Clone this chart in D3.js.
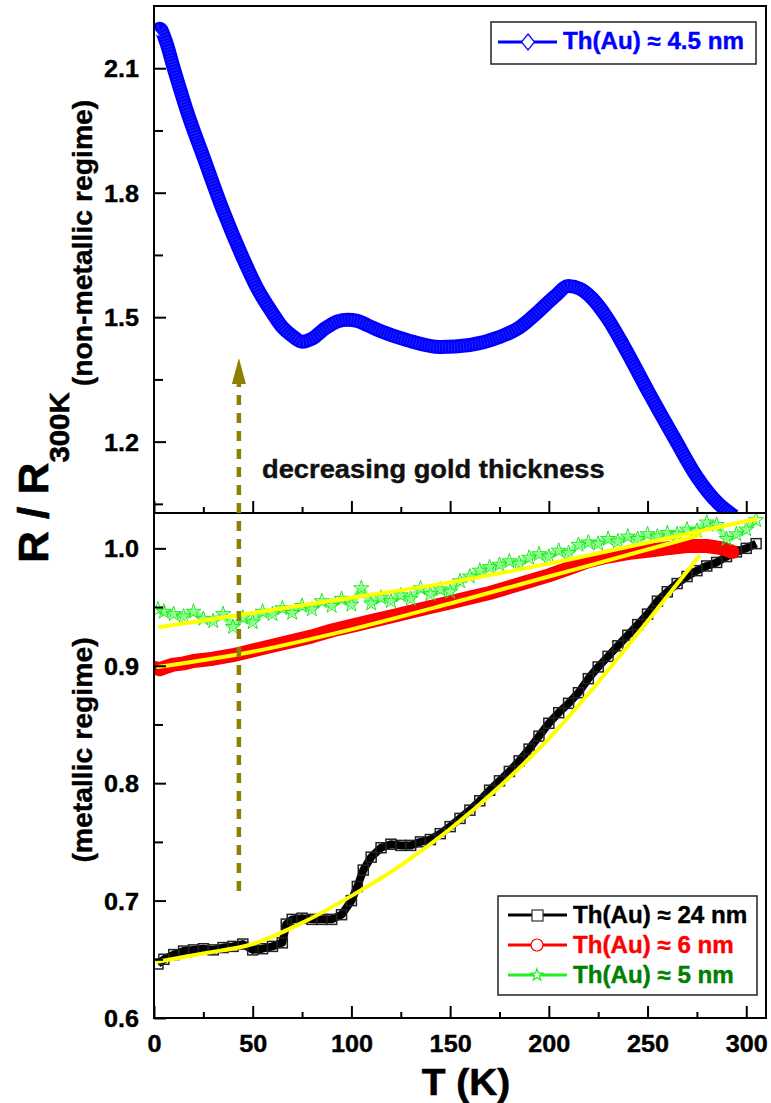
<!DOCTYPE html>
<html>
<head>
<meta charset="utf-8">
<script src="https://cdn.jsdelivr.net/npm/d3@7"></script>
<style>
  body { margin: 0; background: #fff; }
  text { font-family: "Liberation Sans", Arial, Helvetica, sans-serif; font-weight: bold; }
</style>
</head>
<body>
<svg width="771" height="1103"></svg>
<script>
// ---- data (T in K, R / R300K) ----
const blueT = [1, 3, 6, 10, 18, 25, 35, 45, 52, 60, 65, 70, 75, 80, 87, 93, 98, 103, 108, 115, 128, 145, 160, 175, 185, 195, 203, 210, 216, 222, 230, 238, 251, 264, 275, 286, 294];
const blueR = [2.19, 2.195, 2.165, 2.10, 1.978, 1.887, 1.757, 1.643, 1.572, 1.51, 1.476, 1.455, 1.441, 1.448, 1.474, 1.490, 1.494, 1.491, 1.481, 1.466, 1.445, 1.428, 1.433, 1.452, 1.475, 1.515, 1.55, 1.575, 1.568, 1.545, 1.495, 1.43, 1.315, 1.205, 1.115, 1.05, 1.02];

const blackT = [2, 5, 10, 15, 20, 25, 30, 35, 40, 45, 50, 55, 60, 65, 67, 70, 75, 80, 85, 90, 95, 100, 103, 106, 110, 115, 120, 125, 130, 135, 140, 145, 150, 155, 160, 165, 170, 175, 180, 185, 190, 195, 200, 205, 210, 215, 220, 225, 230, 235, 240, 245, 250, 255, 260, 265, 270, 275, 280, 285, 290, 295, 300, 305];
const blackR = [0.646, 0.650, 0.654, 0.657, 0.658, 0.659, 0.658, 0.660, 0.661, 0.663, 0.658, 0.659, 0.661, 0.664, 0.680, 0.684, 0.685, 0.684, 0.684, 0.684, 0.688, 0.700, 0.712, 0.726, 0.737, 0.745, 0.748, 0.747, 0.747, 0.750, 0.752, 0.757, 0.763, 0.770, 0.777, 0.785, 0.794, 0.802, 0.810, 0.819, 0.829, 0.840, 0.851, 0.860, 0.868, 0.877, 0.889, 0.899, 0.908, 0.917, 0.926, 0.935, 0.944, 0.955, 0.963, 0.970, 0.976, 0.981, 0.985, 0.988, 0.993, 0.997, 1.000, 1.004];

const redT = [1, 3, 6, 10, 15, 20, 30, 40, 50, 60, 70, 80, 90, 100, 110, 120, 130, 140, 150, 160, 170, 180, 190, 200, 210, 220, 230, 240, 250, 260, 270, 280, 288, 293];
const redR = [0.898, 0.897, 0.899, 0.901, 0.902, 0.904, 0.906, 0.909, 0.913, 0.917, 0.921, 0.925, 0.930, 0.934, 0.938, 0.942, 0.946, 0.950, 0.954, 0.958, 0.962, 0.967, 0.972, 0.977, 0.983, 0.989, 0.993, 0.996, 0.998, 1.000, 1.002, 1.002, 1.000, 0.997];

const greenT = [2, 5, 10, 15, 20, 25, 30, 35, 40, 45, 50, 55, 60, 65, 70, 75, 80, 85, 90, 95, 100, 105, 110, 115, 120, 125, 130, 135, 140, 145, 150, 155, 160, 165, 170, 175, 180, 185, 190, 195, 200, 205, 210, 215, 220, 225, 230, 235, 240, 245, 250, 255, 260, 265, 270, 275, 280, 285, 290, 295, 300, 305];
const greenR = [0.948, 0.946, 0.944, 0.942, 0.946, 0.940, 0.938, 0.944, 0.933, 0.941, 0.937, 0.946, 0.944, 0.949, 0.945, 0.951, 0.948, 0.955, 0.951, 0.957, 0.952, 0.966, 0.953, 0.958, 0.955, 0.960, 0.957, 0.966, 0.961, 0.965, 0.963, 0.972, 0.976, 0.981, 0.984, 0.986, 0.989, 0.987, 0.992, 0.995, 0.993, 0.998, 0.996, 1.003, 1.005, 1.004, 1.008, 1.006, 1.010, 1.008, 1.012, 1.010, 1.013, 1.012, 1.016, 1.015, 1.022, 1.020, 1.008, 1.012, 1.016, 1.024];

// fitted curves (yellow)
const fitBlackT = [2, 25, 50, 75, 100, 125, 150, 175, 200, 225, 250, 276];
const fitBlackR = [0.648, 0.655, 0.663, 0.681, 0.704, 0.730, 0.761, 0.797, 0.838, 0.886, 0.938, 0.993];
const fitRedT = [2, 50, 100, 150, 200, 250, 276];
const fitRedR = [0.899, 0.912, 0.931, 0.953, 0.976, 0.999, 1.011];
const fitGreenT = [3, 50, 100, 150, 200, 250, 305];
const fitGreenR = [0.933, 0.945, 0.958, 0.971, 0.987, 1.005, 1.025];

// ticks
const xMajor = [0, 50, 100, 150, 200, 250, 300];
const xMinor = [25, 75, 125, 175, 225, 275];
const topMajor = [1.2, 1.5, 1.8, 2.1];
const topMinor = [1.05, 1.35, 1.65, 1.95];
const botMajor = [0.6, 0.7, 0.8, 0.9, 1.0];
const botMinor = [0.65, 0.75, 0.85, 0.95];

const legendTop = ["Th(Au) \u2248 4.5 nm"];
const legendBot = ["Th(Au) \u2248 24 nm", "Th(Au) \u2248 6 nm", "Th(Au) \u2248 5 nm"];

// ---- layout ----
const SX = 1.05; // the figure's font runs a little wider than Arial
const svg = d3.select("svg");
const L = 154, R = 766, TOP = 6, MID = 513, BOT = 1018;

const x = d3.scaleLinear().domain([0, 310]).range([L, R]);
const yTop = d3.scaleLinear().domain([1.028, 2.25]).range([MID, TOP]);
const yBot = d3.scaleLinear().domain([0.6, 1.0301]).range([BOT, MID]);

const defs = svg.append("defs");
defs.append("clipPath").attr("id", "clipTop")
  .append("rect").attr("x", L).attr("y", TOP).attr("width", R - L).attr("height", MID - TOP);
defs.append("clipPath").attr("id", "clipBot")
  .append("rect").attr("x", L).attr("y", MID).attr("width", R - L).attr("height", BOT - MID);

const zip = (ts, rs) => ts.map((t, i) => [t, rs[i]]);

// ---- top panel: blue ----
const gTop = svg.append("g").attr("clip-path", "url(#clipTop)");
const lineTop = d3.line().x(d => x(d[0])).y(d => yTop(d[1])).curve(d3.curveMonotoneX);
gTop.append("path").datum(zip(blueT, blueR))
  .attr("d", lineTop).attr("fill", "none")
  .attr("stroke", "#0000ff").attr("stroke-width", 14).attr("stroke-linejoin", "round");
gTop.append("path").datum(zip(blueT, blueR))
  .attr("d", lineTop).attr("fill", "none")
  .attr("stroke", "#2323ff").attr("stroke-width", 9).attr("stroke-dasharray", "1,2");

// ---- bottom panel ----
const gBot = svg.append("g").attr("clip-path", "url(#clipBot)");
const lineBot = d3.line().x(d => x(d[0])).y(d => yBot(d[1]));
const smoothBot = d3.line().x(d => x(d[0])).y(d => yBot(d[1])).curve(d3.curveMonotoneX);

// black, squares
gBot.append("path").datum(zip(blackT, blackR))
  .attr("d", lineBot).attr("fill", "none")
  .attr("stroke", "#000").attr("stroke-width", 8).attr("stroke-linejoin", "round");
gBot.append("g").selectAll("rect").data(zip(blackT, blackR)).join("rect")
  .attr("x", d => x(d[0]) - 5).attr("y", d => yBot(d[1]) - 5)
  .attr("width", 10).attr("height", 10)
  .attr("fill", "none").attr("stroke", "#222").attr("stroke-width", 1.5);

// red, circles
gBot.append("path").datum(zip(redT, redR))
  .attr("d", lineBot).attr("fill", "none")
  .attr("stroke", "#ff0000").attr("stroke-width", 14)
  .attr("stroke-linejoin", "round").attr("stroke-linecap", "round");

// green, stars
const star = d3.symbol().type(d3.symbolStar).size(70);
gBot.append("path").datum(zip(greenT, greenR))
  .attr("d", lineBot).attr("fill", "none")
  .attr("stroke", "#33ff33").attr("stroke-width", 7).attr("stroke-opacity", 0.55)
  .attr("stroke-linejoin", "round");
gBot.append("g").selectAll("path").data(zip(greenT, greenR)).join("path")
  .attr("transform", d => `translate(${x(d[0])},${yBot(d[1])})`)
  .attr("d", star).attr("fill", "none").attr("stroke", "#1ee61e").attr("stroke-width", 1);

// yellow fits
[[fitBlackT, fitBlackR], [fitRedT, fitRedR], [fitGreenT, fitGreenR]].forEach(([ts, rs]) => {
  gBot.append("path").datum(zip(ts, rs))
    .attr("d", smoothBot).attr("fill", "none")
    .attr("stroke", "#ffff00").attr("stroke-width", 4).attr("stroke-linecap", "round");
});

// ---- axes ----
function styleAxis(g, fontSize) {
  g.select(".domain").remove();
  g.selectAll("line").attr("stroke", "#000").attr("stroke-width", 2);
  g.selectAll("text").attr("font-size", fontSize).attr("fill", "#000")
    .attr("stroke", "#000").attr("stroke-width", 0.4)
    .attr("font-family", null);
  return g;
}
const fmt1 = d3.format(".1f");
const TF = 24;

svg.append("g").attr("transform", `translate(${L},0)`)
  .call(d3.axisLeft(yTop).tickValues(topMajor).tickSize(-12).tickPadding(15).tickFormat(fmt1))
  .call(g => styleAxis(g, TF))
  .call(g => g.selectAll("text").attr("x", -15 / SX).attr("dy", "0.36em").attr("transform", `scale(${SX},1)`));
svg.append("g").attr("transform", `translate(${L},0)`)
  .call(d3.axisLeft(yTop).tickValues(topMinor).tickSize(-9).tickFormat(""))
  .call(g => styleAxis(g, TF));

svg.append("g").attr("transform", `translate(${L},0)`)
  .call(d3.axisLeft(yBot).tickValues(botMajor).tickSize(-12).tickPadding(15).tickFormat(fmt1))
  .call(g => styleAxis(g, TF))
  .call(g => g.selectAll("text").attr("x", -15 / SX).attr("dy", "0.36em").attr("transform", `scale(${SX},1)`));
svg.append("g").attr("transform", `translate(${L},0)`)
  .call(d3.axisLeft(yBot).tickValues(botMinor).tickSize(-9).tickFormat(""))
  .call(g => styleAxis(g, TF));

svg.append("g").attr("transform", `translate(0,${BOT})`)
  .call(d3.axisBottom(x).tickValues(xMajor).tickSize(-12).tickPadding(17).tickFormat(d3.format("d")))
  .call(g => styleAxis(g, TF))
  .call(g => g.selectAll("text").attr("transform", `scale(${SX},1)`));
svg.append("g").attr("transform", `translate(0,${BOT})`)
  .call(d3.axisBottom(x).tickValues(xMinor).tickSize(-6).tickFormat(""))
  .call(g => styleAxis(g, TF));

// ticks on the panel boundary, pointing up
svg.append("g").attr("transform", `translate(0,${MID})`)
  .call(d3.axisTop(x).tickValues(xMajor).tickSize(12).tickFormat(""))
  .call(g => styleAxis(g, TF));
svg.append("g").attr("transform", `translate(0,${MID})`)
  .call(d3.axisTop(x).tickValues(xMinor).tickSize(6).tickFormat(""))
  .call(g => styleAxis(g, TF));

// frame
svg.append("rect").attr("x", L).attr("y", TOP).attr("width", R - L).attr("height", BOT - TOP)
  .attr("fill", "none").attr("stroke", "#000").attr("stroke-width", 2);
svg.append("line").attr("x1", L).attr("x2", R).attr("y1", MID).attr("y2", MID)
  .attr("stroke", "#000").attr("stroke-width", 2);

// ---- labels ----
function label(str, px, py, size, opt = {}) {
  const fill = opt.fill || "#000";
  return svg.append("text")
    .attr("transform", `translate(${px},${py}) rotate(${opt.rot || 0}) scale(${SX},1)`)
    .attr("font-size", size).attr("fill", fill)
    .attr("stroke", fill).attr("stroke-width", opt.sw == null ? 0.4 : opt.sw)
    .attr("text-anchor", opt.anchor || "start")
    .text(str);
}

label("T (K)", 466, 1095, 37, { anchor: "middle", sw: 0.6 });
label("(non-metallic regime)", 92, 243, 27, { rot: -90, anchor: "middle" });
label("(metallic regime)", 92, 750, 27, { rot: -90, anchor: "middle" });
label("decreasing gold thickness", 262, 478, 26, { fill: "#111" });

const yTitle = svg.append("text")
  .attr("transform", `translate(48,563) rotate(-90) scale(${SX},1)`)
  .attr("fill", "#000").attr("stroke", "#000").attr("stroke-width", 0.6);
yTitle.append("tspan").attr("font-size", 42).text("R / R");
yTitle.append("tspan").attr("font-size", 28).attr("dy", 21).text("300K");

// ---- arrow ----
const arrowX = x(43);
svg.append("line").attr("x1", arrowX).attr("x2", arrowX).attr("y1", 891).attr("y2", 384)
  .attr("stroke", "#8b8000").attr("stroke-width", 4.5).attr("stroke-dasharray", "10,8");
svg.append("path")
  .attr("d", `M${arrowX},358 L${arrowX + 7},384 L${arrowX - 7},384 Z`)
  .attr("fill", "#8b8000");

// ---- legends ----
svg.append("rect").attr("x", 491).attr("y", 22).attr("width", 265).attr("height", 42)
  .attr("fill", "#fff").attr("stroke", "#222").attr("stroke-width", 1.5);
svg.append("line").attr("x1", 498).attr("x2", 557).attr("y1", 42).attr("y2", 42)
  .attr("stroke", "#0000ff").attr("stroke-width", 3);
svg.append("path").attr("d", "M528,34 L534.5,42 L528,50 L521.5,42 Z")
  .attr("fill", "#fff").attr("stroke", "#0000ff").attr("stroke-width", 1.2);
label(legendTop[0], 563, 49, 23, { fill: "#0000ff" });

svg.append("rect").attr("x", 498).attr("y", 896).attr("width", 259).attr("height", 99)
  .attr("fill", "#fff").attr("stroke", "#222").attr("stroke-width", 1.5);
const legLine = ["#000", "#ff0000", "#22ee22"];
const legText = ["#000", "#ff0000", "#008000"];
const legY = [915, 945, 975];
legendBot.forEach((s, i) => {
  svg.append("line").attr("x1", 508).attr("x2", 567).attr("y1", legY[i]).attr("y2", legY[i])
    .attr("stroke", legLine[i]).attr("stroke-width", 3);
  label(s, 573, legY[i] + 8, 23, { fill: legText[i] });
});
svg.append("rect").attr("x", 532).attr("y", 910).attr("width", 11).attr("height", 11)
  .attr("fill", "#fff").attr("stroke", "#333").attr("stroke-width", 1.2);
svg.append("circle").attr("cx", 537).attr("cy", 945).attr("r", 6)
  .attr("fill", "#fff").attr("stroke", "#ff0000").attr("stroke-width", 1.2);
svg.append("path").attr("transform", "translate(537,975)")
  .attr("d", d3.symbol().type(d3.symbolStar).size(45)())
  .attr("fill", "#fff").attr("stroke", "#22ee22").attr("stroke-width", 1.2);
</script>
</body>
</html>
